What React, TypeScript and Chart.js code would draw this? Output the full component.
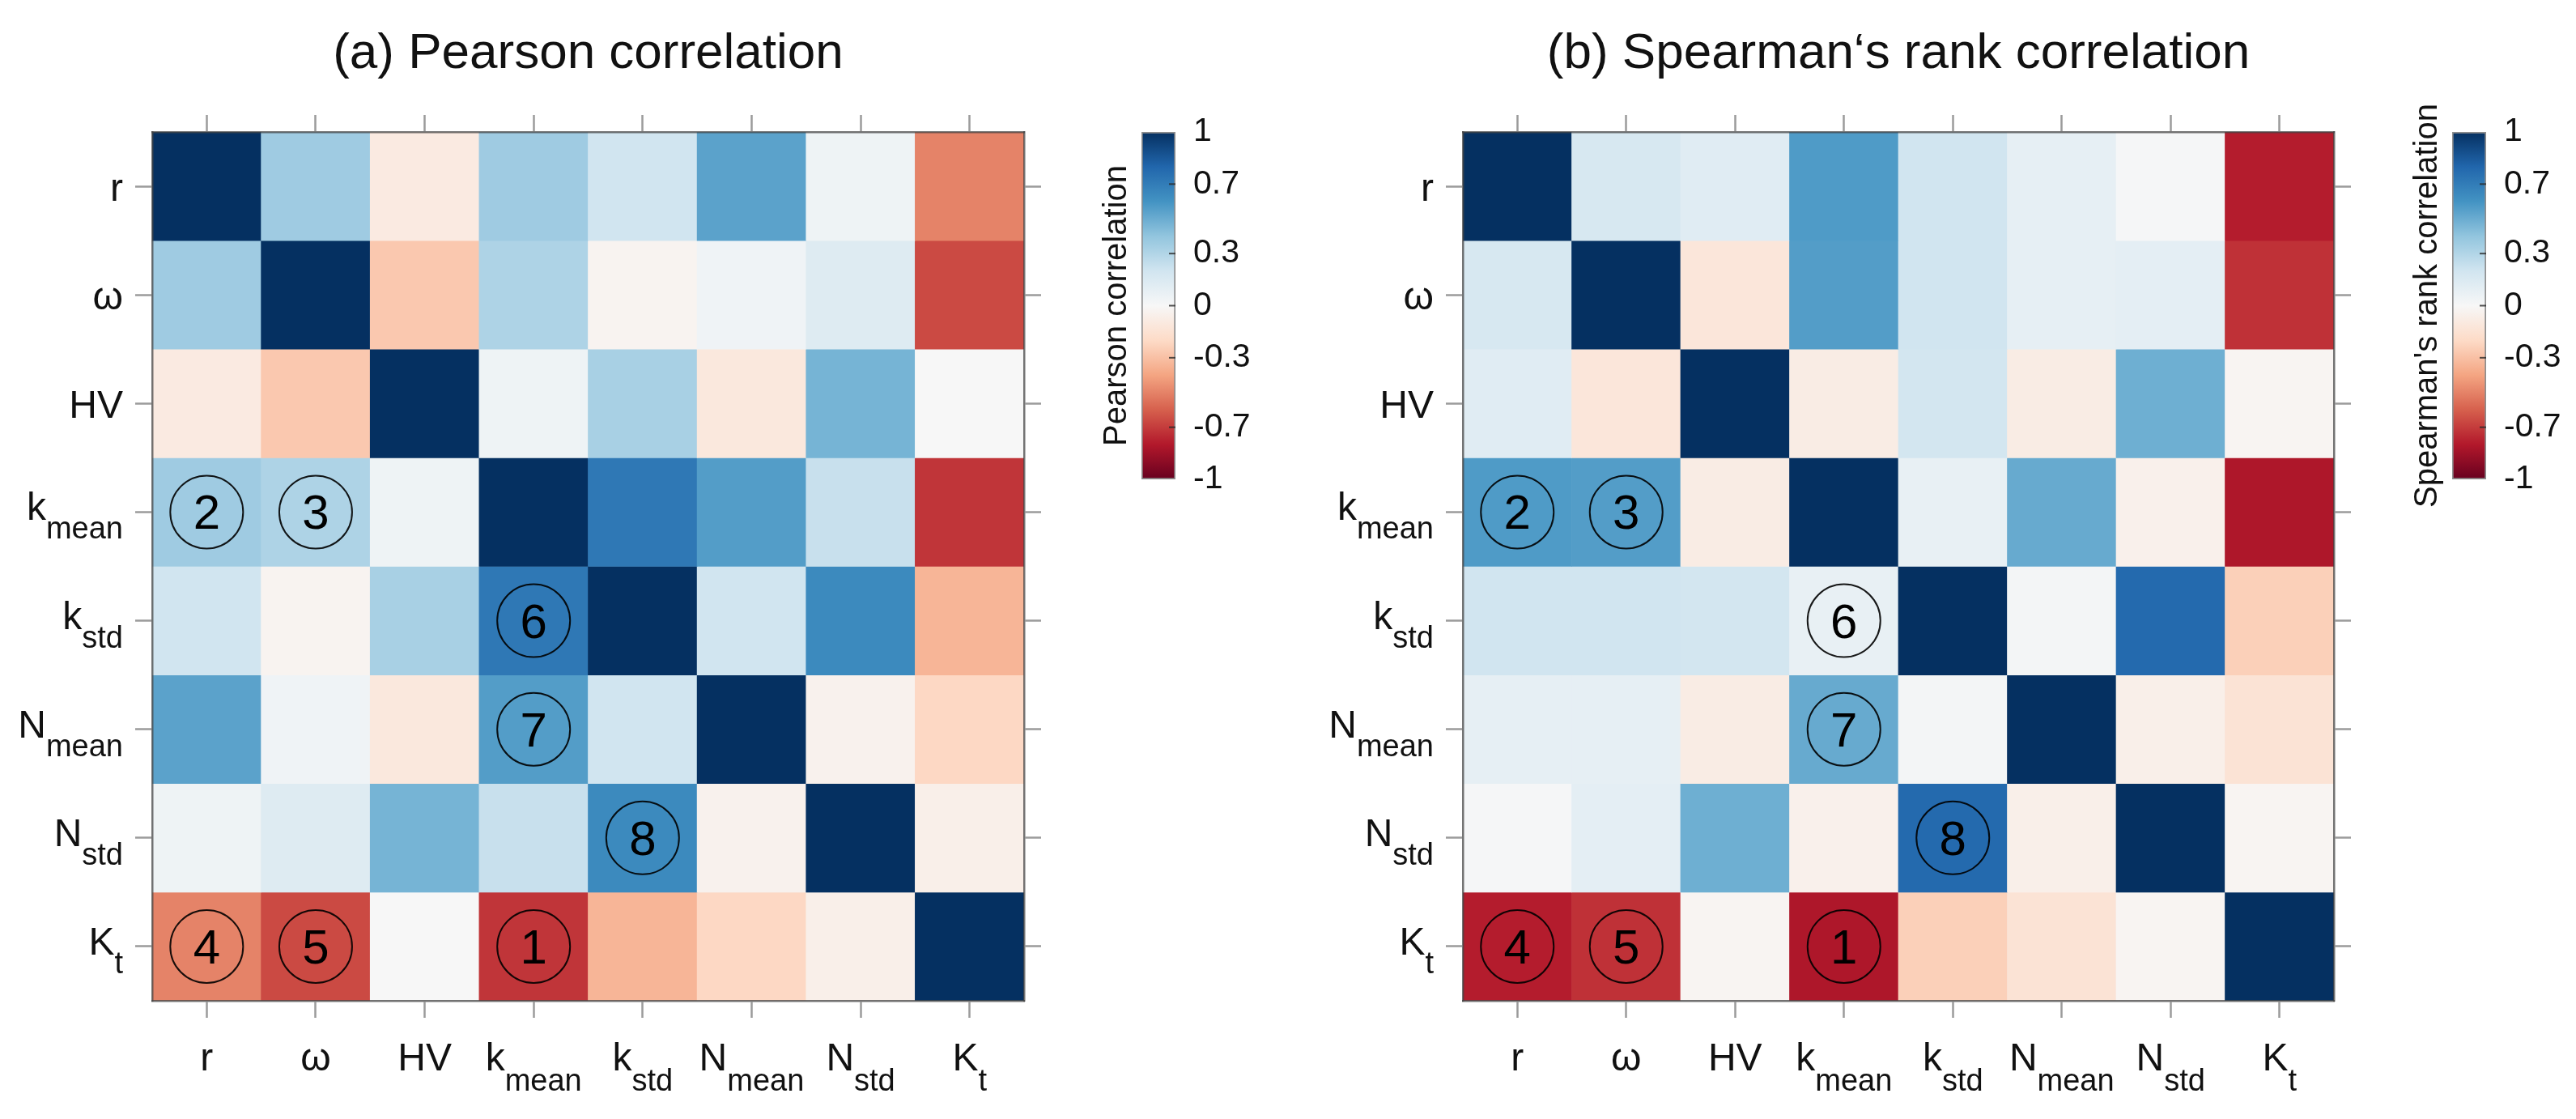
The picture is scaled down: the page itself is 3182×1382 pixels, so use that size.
import React, { useEffect, useRef } from 'react';
import { Chart, registerables } from 'chart.js';

Chart.register(...registerables);

// ---------------- data ----------------
const VARIABLES = ['r', 'ω', 'HV', 'k_mean', 'k_std', 'N_mean', 'N_std', 'K_t'];

const PEARSON: number[][] = [
  [1.0, 0.36, -0.09, 0.36, 0.2, 0.54, 0.05, -0.5],
  [0.36, 1.0, -0.27, 0.31, -0.03, 0.04, 0.13, -0.66],
  [-0.09, -0.27, 1.0, 0.05, 0.33, -0.11, 0.47, 0.0],
  [0.36, 0.31, 0.05, 1.0, 0.72, 0.56, 0.23, -0.72],
  [0.2, -0.03, 0.33, 0.72, 1.0, 0.2, 0.64, -0.34],
  [0.54, 0.04, -0.11, 0.56, 0.2, 1.0, -0.04, -0.21],
  [0.05, 0.13, 0.47, 0.23, 0.64, -0.04, 1.0, -0.06],
  [-0.5, -0.66, 0.0, -0.72, -0.34, -0.21, -0.06, 1.0],
];

const SPEARMAN: number[][] = [
  [1.0, 0.17, 0.12, 0.57, 0.2, 0.09, 0.01, -0.79],
  [0.17, 1.0, -0.12, 0.56, 0.2, 0.09, 0.1, -0.73],
  [0.12, -0.12, 1.0, -0.08, 0.19, -0.08, 0.49, -0.02],
  [0.57, 0.56, -0.08, 1.0, 0.08, 0.51, -0.05, -0.81],
  [0.2, 0.2, 0.19, 0.08, 1.0, 0.02, 0.78, -0.24],
  [0.09, 0.09, -0.08, 0.51, 0.02, 1.0, -0.06, -0.14],
  [0.01, 0.1, 0.49, -0.05, 0.78, -0.06, 1.0, -0.02],
  [-0.79, -0.73, -0.02, -0.81, -0.24, -0.14, -0.02, 1.0],
];

const MARKED_CELLS = [
  { row: 'K_t', col: 'k_mean', label: '1' },
  { row: 'k_mean', col: 'r', label: '2' },
  { row: 'k_mean', col: 'ω', label: '3' },
  { row: 'K_t', col: 'r', label: '4' },
  { row: 'K_t', col: 'ω', label: '5' },
  { row: 'k_std', col: 'k_mean', label: '6' },
  { row: 'N_mean', col: 'k_mean', label: '7' },
  { row: 'N_std', col: 'k_std', label: '8' },
];

const COLORBAR_TICKS = [-1, -0.7, -0.3, 0, 0.3, 0.7, 1];
const COLORBAR_TICK_LABELS = ['-1', '-0.7', '-0.3', '0', '0.3', '0.7', '1'];

const TITLE_A = '(a) Pearson correlation';
const TITLE_B = '(b) Spearman\u2018s rank correlation';
const CBAR_TITLE_A = 'Pearson correlation';
const CBAR_TITLE_B = "Spearman's rank correlation";

// RdBu palette from -1 to 1
const RDBU = ['#67001f', '#b2182b', '#d6604d', '#f4a582', '#fddbc7', '#f7f7f7', '#d1e5f0', '#92c5de', '#4393c3', '#2166ac', '#053061'];

// ---------------- styling / layout ----------------
const FONT = '"Liberation Sans", Arial, Helvetica, sans-serif';
const H = 1382;
const TICK = 21;
const TEXT = '#111111';
const TICK_COLOR = 'rgba(150,150,150,0.95)';
const FRAME_COLOR = 'rgba(70,70,70,0.75)';

const hexToRgb = (h: string) => [parseInt(h.slice(1, 3), 16), parseInt(h.slice(3, 5), 16), parseInt(h.slice(5, 7), 16)];
const RDBU_RGB = RDBU.map(hexToRgb);

function rdbu(v: number): string {
  const t = (Math.max(-1, Math.min(1, v)) + 1) / 2 * (RDBU.length - 1);
  const i = Math.min(RDBU.length - 2, Math.floor(t));
  const f = t - i;
  const a = RDBU_RGB[i];
  const b = RDBU_RGB[i + 1];
  const c = a.map((x, k) => Math.round(x + (b[k] - x) * f));
  return `rgb(${c[0]},${c[1]},${c[2]})`;
}

function heatmapTextPlugin(title: string) {
  return {
    id: 'heatmapText',
    afterDraw(chart: any) {
      const { ctx, chartArea, scales } = chart;
      const xs = scales.x;
      const ys = scales.y;
      ctx.save();
      ctx.fillStyle = TEXT;
      ctx.textBaseline = 'alphabetic';
      // title
      ctx.font = `62px ${FONT}`;
      ctx.textAlign = 'center';
      ctx.fillText(title, (chartArea.left + chartArea.right) / 2, 84);
      const MAIN = `48px ${FONT}`;
      const SUB = `38px ${FONT}`;
      // x axis labels
      VARIABLES.forEach((name, i) => {
        const [main, sub] = name.split('_');
        ctx.font = MAIN;
        const wm = ctx.measureText(main).width;
        ctx.font = SUB;
        const ws = sub ? ctx.measureText(sub).width : 0;
        const cx = xs.getPixelForTick(i);
        const x0 = cx - (wm + ws) / 2;
        ctx.textAlign = 'left';
        ctx.font = MAIN;
        ctx.fillText(main, x0, chartArea.bottom + 86);
        if (sub) {
          ctx.font = SUB;
          ctx.fillText(sub, x0 + wm, chartArea.bottom + 111);
        }
      });
      // y axis labels
      VARIABLES.forEach((name, i) => {
        const [main, sub] = name.split('_');
        const cy = ys.getPixelForValue(i);
        const xr = chartArea.left - TICK - 15;
        ctx.textAlign = 'right';
        if (sub) {
          ctx.font = SUB;
          const ws = ctx.measureText(sub).width;
          ctx.fillText(sub, xr, cy + 33);
          ctx.font = MAIN;
          ctx.fillText(main, xr - ws, cy + 10);
        } else {
          ctx.font = MAIN;
          ctx.fillText(main, xr, cy + 18);
        }
      });
      // numbers in circles
      const meta = chart.getDatasetMeta(chart.data.datasets.length - 1);
      ctx.font = `60px ${FONT}`;
      ctx.textAlign = 'center';
      ctx.fillStyle = '#000';
      meta.data.forEach((pt: any, i: number) => {
        ctx.fillText(MARKED_CELLS[i].label, pt.x, pt.y + 21);
      });
      ctx.restore();
    },
  };
}

const colorbarTicksPlugin = {
  id: 'colorbarTicks',
  afterDatasetsDraw(chart: any) {
    const { ctx, chartArea, scales } = chart;
    const s = scales.y;
    ctx.save();
    ctx.strokeStyle = 'rgba(40,40,40,0.8)';
    ctx.lineWidth = 2;
    COLORBAR_TICKS.forEach((v) => {
      if (Math.abs(v) === 1) return;
      const y = s.getPixelForValue(v);
      ctx.beginPath();
      ctx.moveTo(chartArea.right - 8, y);
      ctx.lineTo(chartArea.right, y);
      ctx.stroke();
    });
    ctx.restore();
  },
};

type Rect = { left: number; right: number; top: number; bottom: number };

function axisCommon() {
  return {
    grid: {
      display: true,
      drawOnChartArea: false,
      drawTicks: true,
      tickLength: TICK,
      tickColor: TICK_COLOR,
      tickWidth: 2.5,
      offset: false,
    },
    border: { display: true, color: FRAME_COLOR, width: 2.5, z: 1 },
    ticks: { display: false },
  };
}

function Heatmap({ matrix, title, canvasLeft, canvasWidth, plot }: { matrix: number[][]; title: string; canvasLeft: number; canvasWidth: number; plot: Rect }) {
  const ref = useRef<HTMLCanvasElement | null>(null);
  useEffect(() => {
    if (!ref.current) return;
    const datasets: any[] = matrix.map((row, r) => ({
      type: 'bar',
      label: VARIABLES[r],
      data: row.map(() => [r - 0.5, r + 0.5]),
      backgroundColor: row.map((v) => rdbu(v)),
      borderWidth: 0,
      grouped: false,
      barPercentage: 1,
      categoryPercentage: 1,
      order: 1,
      xAxisID: 'x',
      yAxisID: 'y',
    }));
    datasets.push({
      type: 'line',
      label: 'marks',
      data: MARKED_CELLS.map((m) => ({ x: m.col, y: VARIABLES.indexOf(m.row) })),
      showLine: false,
      pointStyle: 'circle',
      pointRadius: 45,
      pointBorderWidth: 2,
      pointBorderColor: 'rgba(0,0,0,0.9)',
      pointBackgroundColor: 'rgba(0,0,0,0)',
      order: -1,
      xAxisID: 'x',
      yAxisID: 'y',
    });
    const yTicks = (s: any) => {
      s.ticks = VARIABLES.map((_, i) => ({ value: i }));
    };
    const chart = new Chart(ref.current, {
      type: 'bar',
      data: { labels: VARIABLES, datasets },
      options: {
        animation: false,
        responsive: false,
        maintainAspectRatio: false,
        events: [],
        layout: {
          padding: {
            left: plot.left - canvasLeft - TICK,
            right: canvasLeft + canvasWidth - plot.right - TICK,
            top: plot.top - TICK,
            bottom: H - plot.bottom - TICK,
          },
        },
        plugins: { legend: { display: false }, tooltip: { enabled: false }, title: { display: false } },
        scales: {
          x: { type: 'category', position: 'bottom', offset: true, ...axisCommon(), afterFit: (s: any) => { s.height = TICK; } },
          xTop: { type: 'category', position: 'top', offset: true, labels: VARIABLES, ...axisCommon(), afterFit: (s: any) => { s.height = TICK; } },
          y: { type: 'linear', position: 'left', min: -0.5, max: 7.5, reverse: true, afterBuildTicks: yTicks, ...axisCommon(), afterFit: (s: any) => { s.width = TICK; } },
          yRight: { type: 'linear', position: 'right', min: -0.5, max: 7.5, reverse: true, afterBuildTicks: yTicks, ...axisCommon(), afterFit: (s: any) => { s.width = TICK; } },
        },
      } as any,
      plugins: [heatmapTextPlugin(title)],
    });
    return () => chart.destroy();
  }, [matrix, title, canvasLeft, canvasWidth, plot]);
  return <canvas ref={ref} width={canvasWidth} height={H} style={{ position: 'absolute', left: canvasLeft, top: 0, width: canvasWidth, height: H }} />;
}

function Colorbar({ title, canvasLeft, canvasWidth, bar }: { title: string; canvasLeft: number; canvasWidth: number; bar: Rect }) {
  const ref = useRef<HTMLCanvasElement | null>(null);
  useEffect(() => {
    if (!ref.current) return;
    const TITLE_W = 50;
    const TICKS_W = 100;
    const chart = new Chart(ref.current, {
      type: 'bar',
      data: {
        labels: [''],
        datasets: [
          {
            data: [[COLORBAR_TICKS[0], COLORBAR_TICKS[COLORBAR_TICKS.length - 1]]],
            backgroundColor: (c: any) => {
              const { chartArea, ctx } = c.chart;
              if (!chartArea) return RDBU[5];
              const g = ctx.createLinearGradient(0, chartArea.bottom, 0, chartArea.top);
              RDBU.forEach((col, i) => g.addColorStop(i / (RDBU.length - 1), col));
              return g;
            },
            borderColor: 'rgba(130,130,130,0.9)',
            borderWidth: 2,
            borderSkipped: false,
            barPercentage: 1,
            categoryPercentage: 1,
          },
        ],
      },
      options: {
        animation: false,
        responsive: false,
        maintainAspectRatio: false,
        events: [],
        layout: {
          padding: {
            left: bar.left - canvasLeft - TITLE_W,
            right: canvasLeft + canvasWidth - bar.right - TICKS_W,
            top: bar.top,
            bottom: H - bar.bottom,
          },
        },
        plugins: { legend: { display: false }, tooltip: { enabled: false } },
        scales: {
          x: { display: false },
          y: {
            type: 'linear',
            position: 'right',
            min: -1,
            max: 1,
            afterBuildTicks: (s: any) => { s.ticks = COLORBAR_TICKS.map((v) => ({ value: v })); },
            ticks: {
              callback: (_v: any, i: number) => COLORBAR_TICK_LABELS[i],
              font: { size: 41, family: FONT },
              color: TEXT,
              padding: 14,
            },
            grid: { display: false },
            border: { display: false },
            afterFit: (s: any) => { s.width = TICKS_W; },
          },
          yTitle: {
            type: 'linear',
            position: 'left',
            min: -1,
            max: 1,
            ticks: { display: false },
            grid: { display: false },
            border: { display: false },
            title: {
              display: true,
              text: title,
              color: TEXT,
              font: { size: 40, family: FONT, lineHeight: 1 },
              padding: { top: 0, bottom: 10 },
            },
            afterFit: (s: any) => { s.width = TITLE_W; },
          },
        },
      } as any,
      plugins: [colorbarTicksPlugin],
    });
    return () => chart.destroy();
  }, [title, canvasLeft, canvasWidth, bar]);
  return <canvas ref={ref} width={canvasWidth} height={H} style={{ position: 'absolute', left: canvasLeft, top: 0, width: canvasWidth, height: H }} />;
}

const PLOT_A: Rect = { left: 188, right: 1265, top: 163, bottom: 1236 };
const PLOT_B: Rect = { left: 1807, right: 2883, top: 163, bottom: 1236 };
const BAR_A: Rect = { left: 1410, right: 1452, top: 163, bottom: 592 };
const BAR_B: Rect = { left: 3029, right: 3071, top: 163, bottom: 592 };

export default function App() {
  return (
    <div style={{ position: 'absolute', left: 0, top: 0, width: 3182, height: H, background: '#ffffff', overflow: 'hidden' }}>
      <Heatmap matrix={PEARSON} title={TITLE_A} canvasLeft={0} canvasWidth={1340} plot={PLOT_A} />
      <Colorbar title={CBAR_TITLE_A} canvasLeft={1340} canvasWidth={300} bar={BAR_A} />
      <Heatmap matrix={SPEARMAN} title={TITLE_B} canvasLeft={1640} canvasWidth={1320} plot={PLOT_B} />
      <Colorbar title={CBAR_TITLE_B} canvasLeft={2960} canvasWidth={222} bar={BAR_B} />
    </div>
  );
}
